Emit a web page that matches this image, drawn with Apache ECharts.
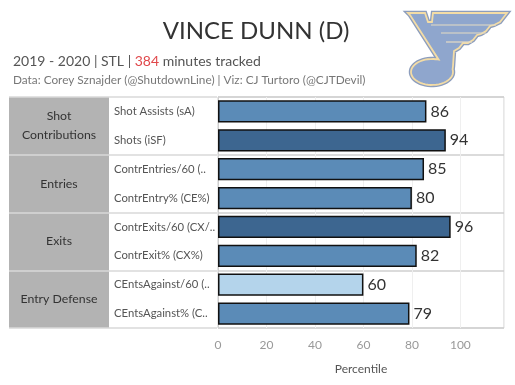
<!DOCTYPE html>
<html><head><meta charset="utf-8">
<script src="https://cdn.jsdelivr.net/npm/echarts@6/dist/echarts.min.js"></script>
<style>html,body{margin:0;padding:0;background:#fff}#c{width:515px;height:385px}</style>
</head><body><div id="c"></div>
<script>
const groups = ['Shot\nContributions', 'Entries', 'Exits', 'Entry Defense'];
const metrics = ['Shot Assists (sA)', 'Shots (iSF)', 'ContrEntries/60 (..', 'ContrEntry% (CE%)',
  'ContrExits/60 (CX/..', 'ContrExit% (CX%)', 'CEntsAgainst/60 (..', 'CEntsAgainst% (C..'];
const values = [86, 94, 85, 80, 96, 82, 60, 79];
const xTicks = [0, 20, 40, 60, 80, 100];

const FONT = 'Lato';
function colorFor(v) { return v >= 90 ? '#3d6690' : (v >= 70 ? '#5b8bb7' : '#b4d4eb'); }

// logo outline (decoration only): wing + stem, note head, back up the stem
const logoPts = [[408,13],[425,13],[428,22],[432,22],[433,13],[507,13],[500,22],[494,25],[490,26],[486,31],[481,34],[477,35],[473,40],[468,43],[463,43],[459,48],[454,51],[453,66]];
for (let k = 0; k <= 40; k++) {
  const t = -0.2 + k / 40 * (2 * Math.PI - 1.05);
  logoPts.push([432 + 21 * Math.cos(t), 72 + 13 * Math.sin(t)]);
}
logoPts.push([410, 15]);

const chart = echarts.init(document.getElementById('c'));
chart.setOption({
  animation: false,
  textStyle: { fontFamily: FONT },
  grid: [
    { left: 218, right: 11, top: 97, bottom: 57, show: true, borderColor: '#cfcfcf', borderWidth: 1 },
    { left: 9, width: 208, top: 97, bottom: 57 }
  ],
  xAxis: [
    { type: 'value', gridIndex: 0, min: 0, max: 118, interval: 20,
      axisLine: { show: false }, axisTick: { show: false },
      splitLine: { show: true, lineStyle: { color: '#efefef' } },
      axisLabel: { color: '#999', fontSize: 12, margin: 11, showMaxLabel: false,
        formatter: v => xTicks.includes(v) ? String(v) : '' },
      name: 'Percentile', nameLocation: 'middle', nameGap: 35,
      nameTextStyle: { color: '#555', fontSize: 12 } },
    { type: 'value', gridIndex: 1, show: false, min: 0, max: 1 }
  ],
  yAxis: [
    { type: 'category', gridIndex: 0, data: metrics, inverse: true,
      axisLine: { show: true, lineStyle: { color: '#cfcfcf' } }, axisTick: { show: false },
      axisLabel: { align: 'left', margin: 104, color: '#555', fontSize: 11.3 } },
    { type: 'category', gridIndex: 0, data: groups, inverse: true, position: 'left',
      axisLine: { show: false }, axisTick: { show: false }, axisLabel: { show: false },
      splitLine: { show: true, lineStyle: { color: '#cfcfcf', width: 1.5 } } },
    { type: 'category', gridIndex: 1, data: groups, inverse: true,
      axisLine: { show: false }, axisTick: { show: false },
      axisLabel: { inside: true, margin: 50, align: 'center', color: '#333', fontSize: 12.3, lineHeight: 19 },
      splitLine: { show: true, lineStyle: { color: '#d8d8d8', width: 1.5 } } }
  ],
  graphic: [
    { type: 'rect', z: -10, shape: { x: 9, y: 97, width: 100, height: 231 }, style: { fill: '#b3b3b3' } },
    { type: 'text', x: 256, y: 31, style: { text: 'VINCE DUNN (D)', fill: '#333', font: '24px ' + FONT, align: 'center', verticalAlign: 'middle' } },
    { type: 'text', x: 13, y: 61, style: {
        text: '{a|2019 - 2020 | STL | }{r|384}{a| minutes tracked}', verticalAlign: 'middle',
        rich: { a: { fill: '#555', fontSize: 14, fontFamily: FONT }, r: { fill: '#e0484b', fontSize: 14, fontFamily: FONT } } } },
    { type: 'text', x: 13, y: 80, style: { text: 'Data: Corey Sznajder (@ShutdownLine) | Viz: CJ Turtoro (@CJTDevil)', fill: '#777', font: '11.8px ' + FONT, verticalAlign: 'middle' } },
    { type: 'polygon', z: 20, shape: { points: logoPts }, style: { fill: '#8fa6cd', stroke: '#8c9dbd', lineWidth: 4.5 } },
    { type: 'polygon', z: 21, shape: { points: logoPts }, style: { fill: '#8fa6cd', stroke: '#f3dca6', lineWidth: 1.8 } },
    { type: 'line', z: 22, shape: { x1: 431, y1: 25, x2: 496, y2: 25 }, style: { stroke: '#e6dcc4', lineWidth: 1.2 } },
    { type: 'line', z: 22, shape: { x1: 441, y1: 33, x2: 486, y2: 33 }, style: { stroke: '#e6dcc4', lineWidth: 1.2 } },
    { type: 'line', z: 22, shape: { x1: 446, y1: 42, x2: 472, y2: 42 }, style: { stroke: '#e6dcc4', lineWidth: 1.2 } }
  ],
  series: [{
    type: 'bar', xAxisIndex: 0, yAxisIndex: 0, barWidth: '77%',
    data: values.map(v => ({ value: v, itemStyle: { color: colorFor(v) } })),
    itemStyle: { borderColor: '#111', borderWidth: 1.5 },
    label: { show: true, position: 'right', distance: 4, color: '#333', fontSize: 16, fontFamily: FONT }
  }]
});
</script></body></html>
